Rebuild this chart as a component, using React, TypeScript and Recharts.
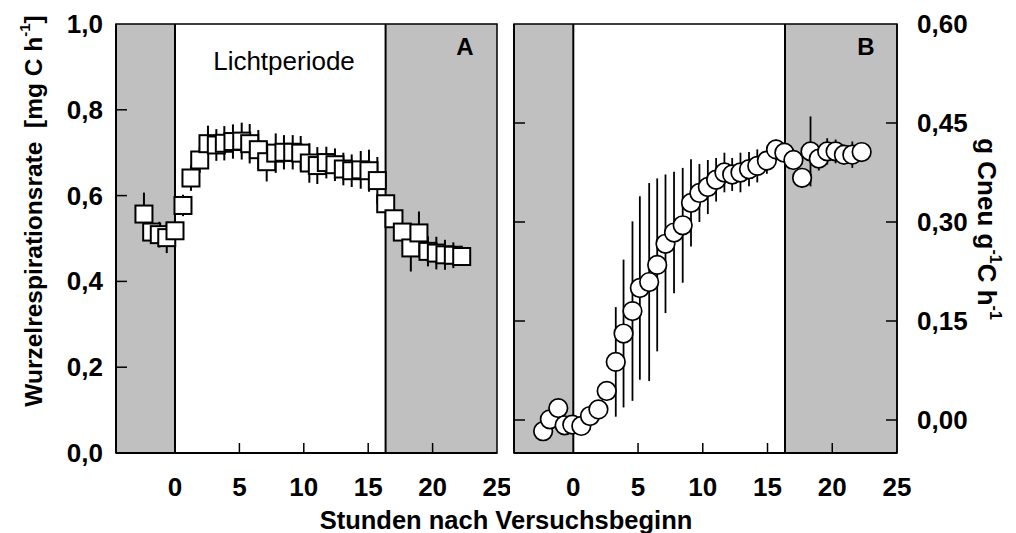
import React from 'react';
import { ComposedChart, Scatter, XAxis, YAxis, ErrorBar, ReferenceArea, ReferenceLine } from 'recharts';

// Panel A: Wurzelrespirationsrate [mg C h-1]
const hoursA = [-2.41, -1.81, -1.22, -0.64, 0, 0.62, 1.24, 1.92, 2.56, 3.21, 3.83, 4.5, 5.18, 5.8, 6.47, 7.12, 7.82, 8.46, 9.14, 9.76, 10.43, 11.05, 11.75, 12.42, 13.07, 13.72, 14.42, 15.06, 15.71, 16.36, 17.0, 17.65, 18.31, 18.94, 19.64, 20.29, 20.96, 21.61, 22.26];
const rateA = [0.557, 0.515, 0.509, 0.502, 0.518, 0.577, 0.641, 0.683, 0.721, 0.718, 0.722, 0.726, 0.727, 0.721, 0.707, 0.679, 0.699, 0.701, 0.701, 0.699, 0.676, 0.67, 0.677, 0.672, 0.662, 0.658, 0.66, 0.658, 0.635, 0.581, 0.546, 0.515, 0.478, 0.513, 0.47, 0.466, 0.462, 0.461, 0.458];
const errA = [0.05, 0.025, 0.03, 0.036, 0.02, 0.025, 0.03, 0.03, 0.042, 0.037, 0.04, 0.04, 0.043, 0.046, 0.046, 0.046, 0.046, 0.04, 0.04, 0.04, 0.046, 0.043, 0.037, 0.038, 0.038, 0.038, 0.044, 0.049, 0.055, 0.02, 0.02, 0.02, 0.055, 0.05, 0.035, 0.038, 0.035, 0.03, 0.02];

// Panel B: g Cneu g-1 C h-1
const hoursB = [-2.33, -1.81, -1.16, -0.67, -0.08, 0.62, 1.29, 1.94, 2.58, 3.28, 3.88, 4.57, 5.14, 5.86, 6.48, 7.12, 7.78, 8.45, 9.09, 9.74, 10.39, 11.03, 11.67, 12.27, 12.91, 13.57, 14.21, 14.95, 15.66, 16.3, 17.0, 17.67, 18.32, 18.96, 19.61, 20.26, 20.9, 21.55, 22.27];
const carbonB = [-0.017, 0.001, 0.018, -0.008, -0.007, -0.009, 0.006, 0.016, 0.044, 0.088, 0.131, 0.165, 0.2, 0.209, 0.235, 0.267, 0.284, 0.295, 0.329, 0.344, 0.353, 0.364, 0.375, 0.372, 0.375, 0.38, 0.385, 0.393, 0.41, 0.405, 0.394, 0.367, 0.407, 0.396, 0.407, 0.407, 0.402, 0.402, 0.406];
const errB = [0.01, 0.01, 0.01, 0.01, 0.01, 0.01, 0.01, 0.01, 0.015, 0.083, 0.112, 0.136, 0.139, 0.15, 0.131, 0.105, 0.092, 0.087, 0.066, 0.044, 0.041, 0.033, 0.03, 0.025, 0.03, 0.026, 0.025, 0.02, 0.015, 0.015, 0.015, 0.015, 0.053, 0.018, 0.02, 0.018, 0.015, 0.02, 0.012];

const xTicks = [0, 5, 10, 15, 20, 25];
const yTicksA = [0, 0.2, 0.4, 0.6, 0.8, 1.0];
const yTicksB = [0, 0.15, 0.3, 0.45, 0.6];

const X_MIN = -4.58;
const X_MAX = 25;
const LIGHT_END = 16.35;

const FONT = '"Liberation Sans", Arial, sans-serif';
const GRAY = '#c0c0c0';

const dataA = hoursA.map((h, i) => ({ h, v: rateA[i], err: errA[i] }));
const dataB = hoursB.map((h, i) => ({ h, v: carbonB[i], err: errB[i] }));

const comma = (v: number, d: number) => v.toFixed(d).replace('.', ',');

const BottomTick = (props: any) => {
  const { x, y, payload } = props;
  const v = payload.value;
  return (
    <g>
      {v > 0 && v < 25 && <line x1={x} x2={x} y1={y} y2={y - 10} stroke="#000" strokeWidth={1.5} />}
      <text x={x} y={y + 34} textAnchor="middle" dominantBaseline="central" fontFamily={FONT} fontWeight="bold" fontSize={26} fill="#000">
        {v}
      </text>
    </g>
  );
};

const LeftTickA = (props: any) => {
  const { x, y, payload } = props;
  const v = payload.value;
  return (
    <g>
      {v > 0 && v < 1 && <line x1={x} x2={x + 11} y1={y} y2={y} stroke="#000" strokeWidth={1.5} />}
      <text x={x - 13} y={y} textAnchor="end" dominantBaseline="central" fontFamily={FONT} fontWeight="bold" fontSize={26} fill="#000">
        {comma(v, 1)}
      </text>
    </g>
  );
};

const LeftTickB = (props: any) => {
  const { x, y, payload } = props;
  if (payload.value >= 0.6) return <g />;
  return <line x1={x} x2={x + 11} y1={y} y2={y} stroke="#000" strokeWidth={1.5} />;
};

const RightTickB = (props: any) => {
  const { x, y, payload } = props;
  const v = payload.value;
  return (
    <g>
      {v < 0.6 && <line x1={x} x2={x - 11} y1={y} y2={y} stroke="#000" strokeWidth={1.5} />}
      <text x={x + 20} y={y} textAnchor="start" dominantBaseline="central" fontFamily={FONT} fontWeight="bold" fontSize={26} fill="#000">
        {comma(v, 2)}
      </text>
    </g>
  );
};

const Square = (p: any) => (
  <rect x={p.cx - 8.5} y={p.cy - 8.5} width={17} height={17} fill="#fff" stroke="#000" strokeWidth={2} />
);
const Circle = (p: any) => <circle cx={p.cx} cy={p.cy} r={9.3} fill="#fff" stroke="#000" strokeWidth={1.7} />;

const PanelA = () => (
  <ComposedChart width={510} height={533} data={dataA} margin={{ top: 24, right: 13, bottom: 0, left: 0 }}>
    <ReferenceArea x1={X_MIN} x2={0} y1={0} y2={1} fill={GRAY} fillOpacity={1} stroke="none" />
    <ReferenceArea x1={LIGHT_END} x2={X_MAX} y1={0} y2={1} fill={GRAY} fillOpacity={1} stroke="none" />
    <ReferenceLine x={0} stroke="#000" strokeWidth={2} />
    <ReferenceLine x={LIGHT_END} stroke="#000" strokeWidth={2} />
    <ReferenceArea x1={X_MIN} x2={X_MAX} y1={0} y2={1} fill="none" stroke="#000" strokeWidth={1.5} />
    <XAxis
      dataKey="h"
      type="number"
      domain={[X_MIN, X_MAX]}
      allowDataOverflow
      ticks={xTicks}
      interval={0}
      height={80}
      tickSize={0}
      tickMargin={0}
      tickLine={false}
      axisLine={{ stroke: '#000', strokeWidth: 2 }}
      tick={<BottomTick />}
    />
    <YAxis
      type="number"
      domain={[0, 1]}
      allowDataOverflow
      ticks={yTicksA}
      interval={0}
      width={116}
      tickSize={0}
      tickMargin={0}
      tickLine={false}
      axisLine={{ stroke: '#000', strokeWidth: 2 }}
      tick={<LeftTickA />}
    />
    <Scatter dataKey="v" shape={<Square />} isAnimationActive={false}>
      <ErrorBar dataKey="err" direction="y" width={0} stroke="#000" strokeWidth={2} />
    </Scatter>
  </ComposedChart>
);

const PanelB = () => (
  <ComposedChart width={511} height={533} data={dataB} margin={{ top: 24, right: 0, bottom: 0, left: 0 }}>
    <ReferenceArea yAxisId="l" x1={X_MIN} x2={0} y1={-0.05} y2={0.6} fill={GRAY} fillOpacity={1} stroke="none" />
    <ReferenceArea yAxisId="l" x1={LIGHT_END} x2={X_MAX} y1={-0.05} y2={0.6} fill={GRAY} fillOpacity={1} stroke="none" />
    <ReferenceLine yAxisId="l" x={0} stroke="#000" strokeWidth={2} />
    <ReferenceLine yAxisId="l" x={LIGHT_END} stroke="#000" strokeWidth={2} />
    <ReferenceArea yAxisId="l" x1={X_MIN} x2={X_MAX} y1={-0.05} y2={0.6} fill="none" stroke="#000" strokeWidth={1.5} />
    <XAxis
      dataKey="h"
      type="number"
      domain={[X_MIN, X_MAX]}
      allowDataOverflow
      ticks={xTicks}
      interval={0}
      height={80}
      tickSize={0}
      tickMargin={0}
      tickLine={false}
      axisLine={{ stroke: '#000', strokeWidth: 2 }}
      tick={<BottomTick />}
    />
    <YAxis
      yAxisId="l"
      type="number"
      domain={[-0.05, 0.6]}
      allowDataOverflow
      ticks={yTicksB}
      interval={0}
      width={9}
      tickSize={0}
      tickMargin={0}
      tickLine={false}
      axisLine={{ stroke: '#000', strokeWidth: 2 }}
      tick={<LeftTickB />}
    />
    <YAxis
      yAxisId="r"
      orientation="right"
      type="number"
      domain={[-0.05, 0.6]}
      allowDataOverflow
      ticks={yTicksB}
      interval={0}
      width={119}
      tickSize={0}
      tickMargin={0}
      tickLine={false}
      axisLine={{ stroke: '#000', strokeWidth: 1.5 }}
      tick={<RightTickB />}
    />
    <Scatter yAxisId="l" dataKey="v" shape={<Circle />} isAnimationActive={false}>
      <ErrorBar dataKey="err" direction="y" width={0} stroke="#000" strokeWidth={1.8} />
    </Scatter>
  </ComposedChart>
);

export default function App() {
  const bold = { fontFamily: FONT, fontWeight: 'bold' as const, fill: '#000' };
  return (
    <div style={{ position: 'absolute', left: 0, top: 0, width: 1016, height: 533, background: '#fff', overflow: 'hidden' }}>
      <div style={{ position: 'absolute', left: 0, top: 0 }}>
        <PanelA />
      </div>
      <div style={{ position: 'absolute', left: 505, top: 0 }}>
        <PanelB />
      </div>
      <svg width={1016} height={533} style={{ position: 'absolute', left: 0, top: 0, pointerEvents: 'none' }}>
        <text x={284} y={70} textAnchor="middle" fontFamily={FONT} fontSize={26} fill="#000">
          Lichtperiode
        </text>
        <text x={465} y={55} textAnchor="middle" fontSize={24} {...bold}>
          A
        </text>
        <text x={866} y={55} textAnchor="middle" fontSize={24} {...bold}>
          B
        </text>
        <text x={506} y={529} textAnchor="middle" fontSize={25.5} {...bold}>
          Stunden nach Versuchsbeginn
        </text>
        <text transform="translate(33,211) rotate(-90)" textAnchor="middle" dominantBaseline="central" fontSize={24.5} style={{ whiteSpace: 'pre' }} {...bold}>
          {'Wurzelrespirationsrate  [mg C h'}
          <tspan dy={-9} fontSize={15}>-1</tspan>
          <tspan dy={9}>]</tspan>
        </text>
        <text transform="translate(987,229) rotate(90)" textAnchor="middle" dominantBaseline="central" fontSize={26} style={{ whiteSpace: 'pre' }} {...bold}>
          {'g Cneu g'}
          <tspan dy={-9} fontSize={16}>-1</tspan>
          <tspan dy={9}>{'C h'}</tspan>
          <tspan dy={-9} fontSize={16}>-1</tspan>
        </text>
      </svg>
    </div>
  );
}
